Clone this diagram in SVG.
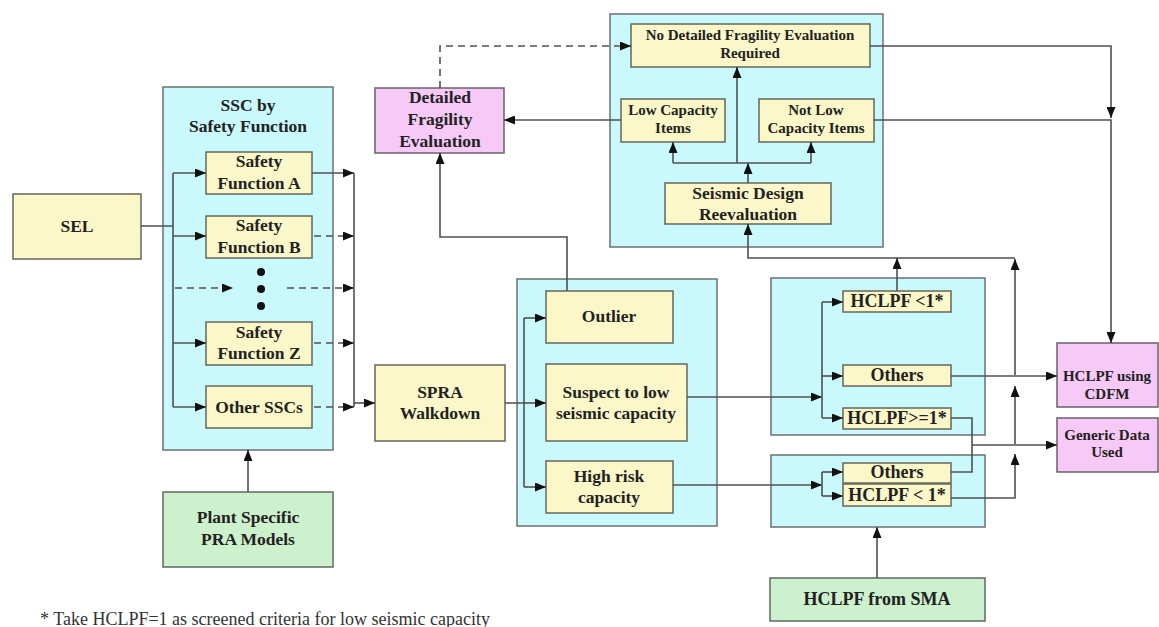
<svg xmlns="http://www.w3.org/2000/svg" width="1159" height="627" viewBox="0 0 1159 627">
<style>
.bg{fill:#ffffff}
.grp{fill:#c9f9fd;stroke:#6a7072;stroke-width:1.5}
.box{fill:#fbf7c8;stroke:#66665a;stroke-width:1.5}
.pink{fill:#f6c9f6;stroke:#6a606a;stroke-width:1.5}
.green{fill:#cdf1cd;stroke:#606a60;stroke-width:1.5}
text{font-family:"Liberation Serif","Times New Roman",serif;font-weight:bold;fill:#222;text-anchor:middle;font-size:17.5px}
.s{font-size:15px}
.m{font-size:18px}
.note{font-weight:normal;text-anchor:start;font-size:18px;fill:#333}
.ln{fill:none;stroke:#505050;stroke-width:1.6}
.da{stroke-dasharray:7,5}
</style>
<defs>
<marker id="ah" viewBox="0 0 11 9" markerWidth="11" markerHeight="9" refX="11" refY="4.5" orient="auto" markerUnits="userSpaceOnUse">
<path d="M0,0 L11,4.5 L0,9 z" fill="#111"/>
</marker>
</defs>
<rect class="bg" x="0" y="0" width="1159" height="627"/>

<g id="containers">
<rect id="ssc-group" class="grp" x="163" y="87" width="170" height="363"/>
<rect id="reeval-group" class="grp" x="610" y="14" width="273" height="233"/>
<rect id="walk-group" class="grp" x="517" y="279" width="200" height="247"/>
<rect id="upper-group" class="grp" x="771" y="278" width="214" height="157"/>
<rect id="lower-group" class="grp" x="771" y="455" width="214" height="72"/>
</g>

<g id="ssc-title"><text x="248" y="111">SSC by</text><text x="248" y="132">Safety Function</text></g>

<g id="sel"><rect class="box" x="13" y="194" width="128" height="65"/><text x="77" y="232">SEL</text></g>
<g id="sfa"><rect class="box" x="206" y="152" width="106" height="42"/><text x="259" y="167">Safety</text><text x="259" y="189">Function A</text></g>
<g id="sfb"><rect class="box" x="206" y="216" width="106" height="42"/><text x="259" y="231">Safety</text><text x="259" y="253">Function B</text></g>
<g id="dots"><circle cx="261" cy="272" r="4" fill="#111"/><circle cx="261" cy="289" r="4" fill="#111"/><circle cx="261" cy="306" r="4" fill="#111"/></g>
<g id="sfz"><rect class="box" x="206" y="322" width="106" height="43"/><text x="259" y="338">Safety</text><text x="259" y="359">Function Z</text></g>
<g id="other"><rect class="box" x="206" y="386" width="106" height="42"/><text x="259" y="413">Other SSCs</text></g>
<g id="plant"><rect class="green" x="163" y="492" width="170" height="75"/><text x="248" y="523">Plant Specific</text><text x="248" y="545">PRA Models</text></g>

<g id="dfe"><rect class="pink" x="375" y="88" width="129" height="65"/><text x="440" y="103">Detailed</text><text x="440" y="125">Fragility</text><text x="440" y="147">Evaluation</text></g>
<g id="nodet"><rect class="box" x="631" y="24" width="239" height="43"/><text class="s" x="750" y="40">No Detailed Fragility Evaluation</text><text class="s" x="750" y="58">Required</text></g>
<g id="lowcap"><rect class="box" x="621" y="99" width="104" height="43"/><text class="s" x="673" y="115">Low Capacity</text><text class="s" x="673" y="133">Items</text></g>
<g id="notlow"><rect class="box" x="759" y="99" width="115" height="43"/><text class="s" x="816" y="115">Not Low</text><text class="s" x="816" y="133">Capacity Items</text></g>
<g id="seismic"><rect class="box" x="665" y="183" width="166" height="41"/><text x="748" y="199">Seismic Design</text><text x="748" y="220">Reevaluation</text></g>

<g id="spra"><rect class="box" x="375" y="365" width="130" height="76"/><text x="440" y="398">SPRA</text><text x="440" y="419">Walkdown</text></g>
<g id="outlier"><rect class="box" x="546" y="291" width="127" height="52"/><text x="609" y="322">Outlier</text></g>
<g id="suspect"><rect class="box" x="546" y="364" width="141" height="77"/><text x="616" y="398">Suspect to low</text><text x="616" y="419">seismic capacity</text></g>
<g id="highrisk"><rect class="box" x="546" y="461" width="127" height="52"/><text x="609" y="482">High risk</text><text x="609" y="503">capacity</text></g>

<g id="h-lt1-a"><rect class="box" x="843" y="291" width="108" height="21"/><text class="m" x="897" y="307">HCLPF &lt;1*</text></g>
<g id="others-a"><rect class="box" x="843" y="365" width="108" height="21"/><text class="m" x="897" y="381">Others</text></g>
<g id="h-ge1"><rect class="box" x="843" y="408" width="108" height="21"/><text class="m" x="897" y="424">HCLPF&gt;=1*</text></g>
<g id="others-b"><rect class="box" x="843" y="463" width="108" height="20"/><text class="m" x="897" y="478">Others</text></g>
<g id="h-lt1-b"><rect class="box" x="843" y="484" width="108" height="22"/><text class="m" x="897" y="501">HCLPF &lt; 1*</text></g>
<g id="sma"><rect class="green" x="770" y="578" width="215" height="43"/><text class="m" x="877" y="605">HCLPF from SMA</text></g>

<g id="cdfm"><rect class="pink" x="1057" y="343" width="101" height="64"/><text class="s" x="1107" y="381">HCLPF using</text><text class="s" x="1107" y="399">CDFM</text></g>
<g id="generic"><rect class="pink" x="1057" y="418" width="101" height="54"/><text class="s" x="1107" y="440">Generic Data</text><text class="s" x="1107" y="457">Used</text></g>

<g id="connectors">
<path class="ln" d="M141,226 H173 M173,173 V407"/>
<path class="ln" d="M173,173 H206" marker-end="url(#ah)"/>
<path class="ln" d="M173,236 H206" marker-end="url(#ah)"/>
<path class="ln da" d="M175,288 H233" marker-end="url(#ah)"/>
<path class="ln" d="M173,343 H206" marker-end="url(#ah)"/>
<path class="ln" d="M173,407 H206" marker-end="url(#ah)"/>
<path class="ln" d="M312,173 H354" marker-end="url(#ah)"/>
<path class="ln da" d="M314,236 H354" marker-end="url(#ah)"/>
<path class="ln da" d="M287,288 H354" marker-end="url(#ah)"/>
<path class="ln da" d="M314,343 H354" marker-end="url(#ah)"/>
<path class="ln da" d="M314,407 H354" marker-end="url(#ah)"/>
<path class="ln" d="M354,173 V407"/>
<path class="ln" d="M354,403 H375" marker-end="url(#ah)"/>
<path class="ln" d="M248,492 V450" marker-end="url(#ah)"/>
<path class="ln" d="M505,403 H524 M524,318 V487"/>
<path class="ln" d="M524,318 H546" marker-end="url(#ah)"/>
<path class="ln" d="M524,403 H546" marker-end="url(#ah)"/>
<path class="ln" d="M524,487 H546" marker-end="url(#ah)"/>
<path class="ln" d="M567,291 V237 H440 V153" marker-end="url(#ah)"/>
<path class="ln da" d="M440,88 V46 H631" marker-end="url(#ah)"/>
<path class="ln" d="M621,120 H504" marker-end="url(#ah)"/>
<path class="ln" d="M748,183 V163" marker-end="url(#ah)"/>
<path class="ln" d="M673,163 H811"/>
<path class="ln" d="M673,163 V142" marker-end="url(#ah)"/>
<path class="ln" d="M811,163 V142" marker-end="url(#ah)"/>
<path class="ln" d="M737,163 V67" marker-end="url(#ah)"/>
<path class="ln" d="M1015,258 H748 V224" marker-end="url(#ah)"/>
<path class="ln" d="M897,291 V258" marker-end="url(#ah)"/>
<path class="ln" d="M951,498 H1015 V454" marker-end="url(#ah)"/>
<path class="ln" d="M1015,444 V386" marker-end="url(#ah)"/>
<path class="ln" d="M1015,375 V259" marker-end="url(#ah)"/>
<path class="ln" d="M687,397 H822" marker-end="url(#ah)"/>
<path class="ln" d="M673,485 H822" marker-end="url(#ah)"/>
<path class="ln" d="M822,302 V418"/>
<path class="ln" d="M822,302 H843" marker-end="url(#ah)"/>
<path class="ln" d="M822,376 H843" marker-end="url(#ah)"/>
<path class="ln" d="M822,418 H843" marker-end="url(#ah)"/>
<path class="ln" d="M822,472 V496"/>
<path class="ln" d="M822,472 H843" marker-end="url(#ah)"/>
<path class="ln" d="M822,496 H843" marker-end="url(#ah)"/>
<path class="ln" d="M951,376 H1057" marker-end="url(#ah)"/>
<path class="ln" d="M951,418 H972 V472 H951"/>
<path class="ln" d="M972,445 H1057" marker-end="url(#ah)"/>
<path class="ln" d="M870,46 H1111 V118" marker-end="url(#ah)"/>
<path class="ln" d="M874,120 H1111 V343" marker-end="url(#ah)"/>
<path class="ln" d="M877,578 V527" marker-end="url(#ah)"/>
</g>

<text class="note" x="40" y="625">* Take HCLPF=1 as screened criteria for low seismic capacity</text>
</svg>
